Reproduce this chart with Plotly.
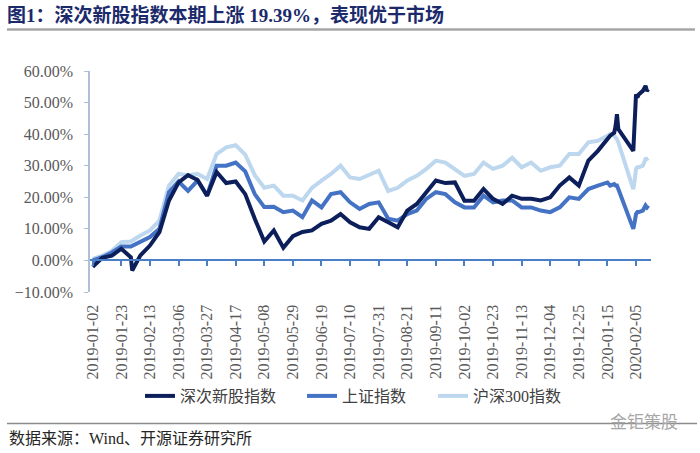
import plotly.graph_objects as go

# 日期（周度读数 + 春节前后关键交易日）
dates = [
    "2019-01-02", "2019-01-09", "2019-01-16", "2019-01-23", "2019-01-30", "2019-01-31",
    "2019-02-06", "2019-02-13", "2019-02-20", "2019-02-27", "2019-03-06", "2019-03-13",
    "2019-03-20", "2019-03-27", "2019-04-03", "2019-04-10", "2019-04-17", "2019-04-24",
    "2019-05-01", "2019-05-08", "2019-05-15", "2019-05-22", "2019-05-29", "2019-06-05",
    "2019-06-12", "2019-06-19", "2019-06-26", "2019-07-03", "2019-07-10", "2019-07-17",
    "2019-07-24", "2019-07-31", "2019-08-07", "2019-08-14", "2019-08-21", "2019-08-28",
    "2019-09-04", "2019-09-11", "2019-09-18", "2019-09-25", "2019-10-02", "2019-10-09",
    "2019-10-16", "2019-10-23", "2019-10-30", "2019-11-06", "2019-11-13", "2019-11-20",
    "2019-11-27", "2019-12-04", "2019-12-11", "2019-12-18", "2019-12-25", "2020-01-01",
    "2020-01-08", "2020-01-15", "2020-01-17", "2020-01-20", "2020-01-21", "2020-01-22",
    "2020-01-23", "2020-02-03", "2020-02-04", "2020-02-05", "2020-02-06", "2020-02-07",
    "2020-02-10", "2020-02-11", "2020-02-12", "2020-02-13", "2020-02-14",
]

# 累计涨跌幅（%）
sz_new = [
    -2.0, 0.8, 1.5, 3.7, 1.0, -3.2,
    1.6, 4.7, 9.0, 19.0, 24.7, 27.0,
    25.5, 20.5, 28.0, 24.5, 25.0, 21.0,
    13.2, 6.0, 9.5, 4.0, 7.7, 9.0,
    9.5, 11.6, 12.6, 14.7, 12.1, 10.5,
    10.0, 13.7, 12.1, 10.5, 15.8, 17.9,
    21.6, 25.3, 24.5, 24.7, 18.9, 18.9,
    22.6, 19.5, 17.9, 20.5, 19.5, 19.5,
    19.0, 20.0, 23.7, 26.3, 23.7, 31.6,
    34.7, 38.4, 39.5, 40.5, 42.6, 46.3,
    41.6, 34.7, 42.0, 52.6, 51.6, 52.6,
    53.7, 54.7, 55.3, 53.7, 54.2,
]
sh_index = [
    0.0, 1.0, 2.5, 4.4, 4.4, 4.6,
    5.8, 7.4, 10.0, 21.6, 25.0, 22.0,
    25.3, 20.5, 30.0, 30.0, 31.0, 28.2,
    21.0, 16.9, 17.0, 15.3, 15.8, 13.7,
    19.0, 16.8, 21.0, 21.6, 18.4, 16.3,
    17.9, 18.4, 13.2, 12.6, 14.7, 15.8,
    19.5, 21.6, 21.0, 18.4, 16.8, 16.8,
    20.5, 18.4, 19.0, 19.0, 16.8, 16.8,
    15.8, 15.3, 16.8, 20.0, 19.5, 22.6,
    23.7, 24.7, 23.7, 24.2, 23.7, 23.7,
    22.6, 10.0, 12.1, 14.7, 15.3, 15.3,
    15.8, 16.8, 17.4, 16.8, 17.4,
]
hs300 = [
    0.5, 1.5, 3.0, 5.8, 6.0, 6.3,
    7.9, 9.5, 12.6, 23.7, 27.4, 27.0,
    27.4, 25.8, 33.7, 35.8, 36.5, 33.5,
    27.0, 23.0, 23.7, 20.5, 20.5, 19.0,
    23.0, 25.3, 27.4, 30.0, 26.3, 25.8,
    27.0, 28.4, 22.0, 23.0, 25.3, 26.8,
    29.0, 31.6, 31.0, 29.0, 26.8, 27.4,
    31.0, 29.0, 30.0, 32.5, 29.5, 31.0,
    28.4, 29.5, 30.0, 33.7, 33.7, 37.4,
    37.9, 39.5, 40.0, 39.5, 39.0, 38.4,
    37.4, 22.6, 25.3, 29.0, 29.5, 29.5,
    30.0, 31.0, 32.1, 32.1, 32.4,
]

tick_dates = [
    "2019-01-02", "2019-01-23", "2019-02-13", "2019-03-06", "2019-03-27", "2019-04-17",
    "2019-05-08", "2019-05-29", "2019-06-19", "2019-07-10", "2019-07-31", "2019-08-21",
    "2019-09-11", "2019-10-02", "2019-10-23", "2019-11-13", "2019-12-04", "2019-12-25",
    "2020-01-15", "2020-02-05",
]

W, H = 700, 453
L, R, T, B = 90, 49, 71, 161
FONT = "Liberation Serif, Noto Sans CJK SC"


def px(x):
    return (x - L) / (W - L - R)


def py(y):
    return (H - B - y) / (H - T - B)


fig = go.Figure()
fig.add_trace(go.Scatter(x=dates, y=hs300, name="沪深300指数", mode="lines", legend="legend3",
                         line=dict(color="#BDD7EE", width=4)))
fig.add_trace(go.Scatter(x=dates, y=sh_index, name="上证指数", mode="lines", legend="legend2",
                         line=dict(color="#4472C4", width=4)))
fig.add_trace(go.Scatter(x=dates, y=sz_new, name="深次新股指数", mode="lines", legend="legend",
                         line=dict(color="#0C1F5B", width=4)))

leg = dict(orientation="h", xanchor="left", yanchor="middle", y=py(396),
           font=dict(size=16, color="#404040"), bgcolor="rgba(0,0,0,0)")

fig.update_layout(
    width=W, height=H,
    margin=dict(l=L, r=R, t=T, b=B, autoexpand=False),
    paper_bgcolor="white", plot_bgcolor="white",
    font=dict(family=FONT, size=16, color="#404040"),
    title=dict(text="<b>图1：深次新股指数本期上涨 19.39%，表现优于市场</b>",
               xref="container", x=0.01, xanchor="left",
               yref="container", y=1 - 15 / H, yanchor="middle",
               font=dict(family=FONT, size=19, color="#1B2A6B")),
    showlegend=True,
    legend=dict(leg, x=px(140)),
    legend2=dict(leg, x=px(302)),
    legend3=dict(leg, x=px(433)),
)

fig.update_xaxes(
    type="date", range=["2018-12-31", "2020-02-16"],
    anchor="free", position=10 / 70, automargin=False,
    showline=True, linecolor="#4A7EC7", linewidth=2,
    ticks="outside", ticklen=5, tickcolor="#4A7EC7", tickwidth=1.5,
    tickvals=tick_dates, ticktext=tick_dates, tickangle=-90,
    ticklabelstandoff=32,
    tickfont=dict(family="Liberation Serif", size=16, color="#595959"),
    showgrid=False, zeroline=False,
)
fig.update_yaxes(
    range=[-10, 60], dtick=10, tickformat=".2f", ticksuffix="%", automargin=False,
    showline=True, linecolor="#B0BFD8", linewidth=1.5,
    ticks="outside", ticklen=4, tickcolor="#B0BFD8", ticklabelstandoff=8,
    tickfont=dict(family="Liberation Serif", size=16, color="#595959"),
    showgrid=False, zeroline=False,
)

# 标题下方与来源上方的分隔线
fig.add_shape(type="line", xref="paper", yref="paper",
              x0=px(7), x1=px(695), y0=py(29.5), y1=py(29.5),
              line=dict(color="#A6A6A6", width=2.5))
fig.add_shape(type="line", xref="paper", yref="paper",
              x0=px(7), x1=px(697), y0=py(423.5), y1=py(423.5),
              line=dict(color="#8C8C8C", width=1.5))

fig.add_annotation(text="数据来源：Wind、开源证券研究所", xref="paper", yref="paper",
                   x=px(7), y=py(439), xanchor="left", yanchor="middle", showarrow=False,
                   font=dict(family=FONT, size=16, color="#262626"))
fig.add_annotation(text="金钜策股", xref="paper", yref="paper",
                   x=px(644), y=py(422), xanchor="center", yanchor="middle", showarrow=False,
                   font=dict(family=FONT, size=17, color="#A6A6A6"))

# 页面默认 8px 边距会把图整体挤偏，去掉；同时不显示工具栏
fig.write_html("out.html", config={"displayModeBar": False},
               post_script="document.body.style.margin='0';")
